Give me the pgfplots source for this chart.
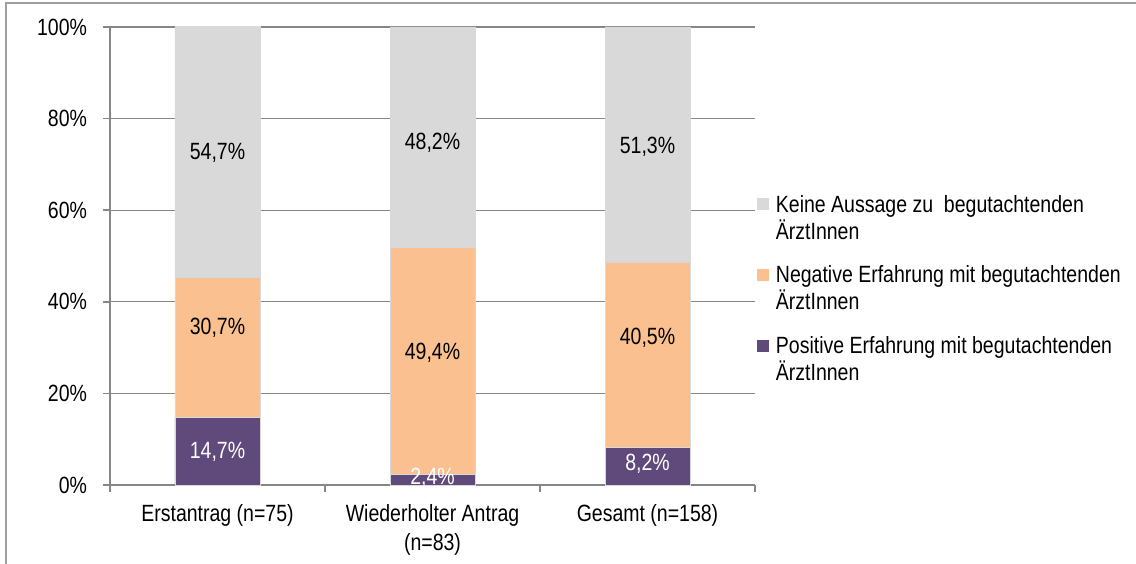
\documentclass[border=0pt]{standalone}
\usepackage{pgfplots}
\pgfplotsset{compat=1.18}
\usepackage{pgfplotstable}
\usepackage{fontspec}
\setmainfont{Liberation Sans}[FakeStretch=0.83]
\definecolor{cgray}{HTML}{D9D9D9}
\definecolor{corange}{HTML}{FAC090}
\definecolor{cpurple}{HTML}{604A7B}
\definecolor{cgrid}{HTML}{868686}
\pgfplotstableread{
x y off lbl
0 14.7 -1 14,7
1 2.4 1.5 2,4
2 8.2 2 8,2
}\tabpos
\pgfplotstableread{
x y off lbl
0 30.7 20 30,7
1 49.4 8 49,4
2 40.5 17 40,5
}\tabneg
\pgfplotstableread{
x y off lbl
0 54.7 -1 54,7
1 48.2 -5.6 48,2
2 51.3 -2.5 51,3
}\tabkeine
\begin{document}
\fontsize{23.5pt}{27pt}\selectfont
\begin{tikzpicture}
\useasboundingbox (0,0) rectangle (1136pt,564pt);
\draw[color=gray!75, line width=2pt] (6pt,0) -- (6pt,561pt) -- (1136pt,561pt);
\begin{axis}[
  at={(110pt,79pt)}, anchor=south west,
  scale only axis, width=645pt, height=458pt,
  clip=false,
  ybar stacked, bar width=85pt,
  xmin=-0.5, xmax=2.5, ymin=0, ymax=100,
  axis x line*=bottom, axis y line*=left,
  axis line style={-, cgrid, line width=1.5pt},
  tick align=outside, major tick length=7pt,
  tick style={cgrid, line width=1.5pt},
  ytick={0,20,40,60,80,100},
  yticklabels={0\%,20\%,40\%,60\%,80\%,100\%},
  yticklabel style={xshift=-8pt},
  ymajorgrids, major grid style={cgrid, line width=1.2pt},
  xtick={-0.5,0.5,1.5,2.5}, xticklabels={},
  extra x ticks={0,1,2},
  extra x tick labels={Erstantrag (n=75),{Wiederholter Antrag\\(n=83)},Gesamt (n=158)},
  extra x tick style={major tick length=0pt, grid=none,
     xticklabel style={align=center, yshift=-11pt, font=\fontsize{23.5pt}{29pt}\selectfont}},
  point meta=explicit symbolic,
  nodes near coords={\pgfplotspointmeta\%},
  visualization depends on={\thisrow{off} \as \off},
  every node near coord/.append style={anchor=center, yshift={\off}},
  reverse legend,
  legend style={at={(1.003,0.633)}, anchor=north west, draw=none, fill=none,
     inner sep=0pt, row sep=50pt, column sep=7pt,
     cells={anchor=base west}, nodes={inner sep=0pt}},
]
\addplot[fill=cpurple, draw=white!70!gray, line width=0.8pt,
  every node near coord/.append style={text=white},
  legend image code/.code={\fill[cpurple] (0pt,2.5pt) rectangle (11pt,13.5pt);}]
  table[x=x, y=y, meta=lbl] {\tabpos};
\addlegendentry{\parbox[t]{360pt}{Positive Erfahrung mit begutachtenden\\ÄrztInnen}}
\addplot[fill=corange, draw=white!70!gray, line width=0.8pt,
  every node near coord/.append style={text=black},
  legend image code/.code={\fill[corange] (0pt,2.5pt) rectangle (11pt,13.5pt);}]
  table[x=x, y=y, meta=lbl] {\tabneg};
\addlegendentry{\parbox[t]{360pt}{Negative Erfahrung mit begutachtenden\\ÄrztInnen}}
\addplot[fill=cgray, draw=white!70!gray, line width=0.8pt,
  every node near coord/.append style={text=black},
  legend image code/.code={\fill[cgray] (0pt,2.5pt) rectangle (11pt,13.5pt);}]
  table[x=x, y=y, meta=lbl] {\tabkeine};
\addlegendentry{\parbox[t]{360pt}{Keine Aussage zu\ \ begutachtenden\\ÄrztInnen}}
\end{axis}
\end{tikzpicture}
\end{document}
